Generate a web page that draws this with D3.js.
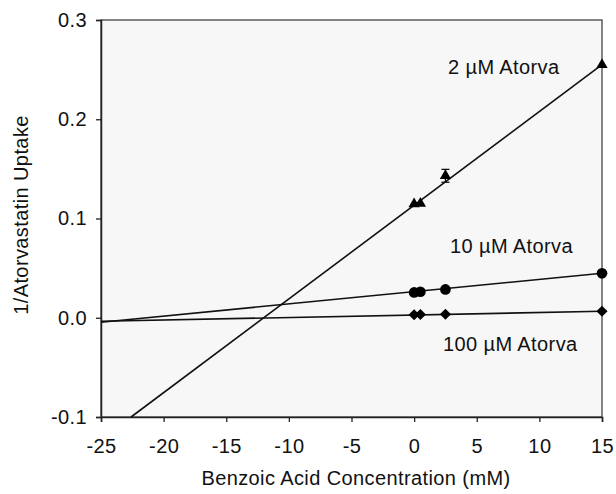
<!DOCTYPE html>
<html lang="en">
<head>
<meta charset="UTF-8">
<title>1/Atorvastatin Uptake vs Benzoic Acid</title>
<script src="https://d3js.org/d3.v7.min.js"></script>
<style>
  body { margin: 0; background: #fff; }
  svg text { font-family: "Liberation Sans", Arial, Helvetica, sans-serif; fill: #111; letter-spacing: 0.4px; }
</style>
</head>
<body>
<div id="chart"></div>
<script>
// values
var xTicks = [-25, -20, -15, -10, -5, 0, 5, 10, 15];
var yTicks = [-0.1, 0.0, 0.1, 0.2, 0.3];
var yTickLabels = ["-0.1", "0.0", "0.1", "0.2", "0.3"];

var conc = [0, 0.5, 2.5, 15];
var atorva2 = [0.1145, 0.1150, 0.1430, 0.2550];
var atorva2Err = [0, 0, 0.0065, 0];
var atorva10 = [0.0255, 0.0262, 0.0285, 0.0448];
var atorva100 = [0.0030, 0.0033, 0.0035, 0.0065];

// fitted lines, end points
var fit2 = [[-22.6, -0.1], [15, 0.255]];
var fit10 = [[-25, -0.0045], [15, 0.0448]];
var fit100 = [[-25, -0.0035], [15, 0.0065]];

var seriesLabels = ["2 \u00b5M Atorva", "10 \u00b5M Atorva", "100 \u00b5M Atorva"];

var width = 616, height = 494;
var margin = {top: 20, right: 14, bottom: 77, left: 101};

var svg = d3.select("#chart").append("svg")
    .attr("width", width)
    .attr("height", height);

var x = d3.scaleLinear().domain([-25, 15]).range([margin.left, width - margin.right]);
var y = d3.scaleLinear().domain([-0.1, 0.3]).range([height - margin.bottom, margin.top]);

// plot background
svg.append("rect")
    .attr("x", x(-25)).attr("y", y(0.3))
    .attr("width", x(15) - x(-25)).attr("height", y(-0.1) - y(0.3))
    .attr("fill", "#f7f7f7")
    .attr("stroke", "#444").attr("stroke-width", 1.3);

// axes
var xAxis = svg.append("g")
    .attr("transform", "translate(0," + y(-0.1) + ")")
    .call(d3.axisBottom(x).tickValues(xTicks).tickSize(5).tickPadding(17).tickFormat(function(d) { return String(d); }));
var yAxis = svg.append("g")
    .attr("transform", "translate(" + x(-25) + ",0)")
    .call(d3.axisLeft(y).tickValues(yTicks).tickSize(5).tickPadding(9)
        .tickFormat(function(d, i) { return yTickLabels[i]; }));

[xAxis, yAxis].forEach(function(a) {
  a.select(".domain").attr("stroke", "#222").attr("stroke-width", 1.5);
  a.selectAll(".tick line").attr("stroke", "#222").attr("stroke-width", 1.3);
  a.selectAll(".tick text").attr("font-size", 20).attr("fill", "#111")
   .attr("font-family", "'Liberation Sans', Arial, sans-serif");
});

// axis titles
svg.append("text")
    .attr("x", 356).attr("y", 485)
    .attr("text-anchor", "middle")
    .attr("font-size", 20)
    .text("Benzoic Acid Concentration (mM)");
svg.append("text")
    .attr("transform", "translate(28,215) rotate(-90)")
    .attr("text-anchor", "middle")
    .attr("font-size", 20)
    .text("1/Atorvastatin Uptake");

// fitted lines
var line = d3.line().x(function(d) { return x(d[0]); }).y(function(d) { return y(d[1]); });
[fit2, fit10, fit100].forEach(function(f) {
  svg.append("path").datum(f)
      .attr("d", line)
      .attr("fill", "none")
      .attr("stroke", "#111")
      .attr("stroke-width", 1.6);
});

// error bars (2 uM)
var eb = svg.append("g").attr("stroke", "#111").attr("stroke-width", 1.3);
conc.forEach(function(c, i) {
  var e = atorva2Err[i];
  if (!e) return;
  eb.append("line").attr("x1", x(c)).attr("x2", x(c)).attr("y1", y(atorva2[i] - e)).attr("y2", y(atorva2[i] + e));
  eb.append("line").attr("x1", x(c) - 4).attr("x2", x(c) + 4).attr("y1", y(atorva2[i] + e)).attr("y2", y(atorva2[i] + e));
  eb.append("line").attr("x1", x(c) - 4).attr("x2", x(c) + 4).attr("y1", y(atorva2[i] - e)).attr("y2", y(atorva2[i] - e));
});

// markers
function drawMarkers(vals, type, size) {
  var diamond = type === "diamond";
  svg.append("g").selectAll("path")
    .data(vals)
    .enter().append("path")
    .attr("transform", function(d, i) {
      return "translate(" + x(conc[i]) + "," + y(d) + ")" + (diamond ? " rotate(45)" : "");
    })
    .attr("d", d3.symbol().type(diamond ? d3.symbolSquare : type).size(size))
    .attr("fill", "#000");
}
drawMarkers(atorva2, d3.symbolTriangle, 55);
drawMarkers(atorva10, d3.symbolCircle, 90);
drawMarkers(atorva100, "diamond", 62);

// series labels
svg.append("text").attr("x", 448).attr("y", 74).attr("font-size", 20).text(seriesLabels[0]);
svg.append("text").attr("x", 450).attr("y", 253).attr("font-size", 20).text(seriesLabels[1]);
svg.append("text").attr("x", 443).attr("y", 351).attr("font-size", 20).text(seriesLabels[2]);
</script>
</body>
</html>
